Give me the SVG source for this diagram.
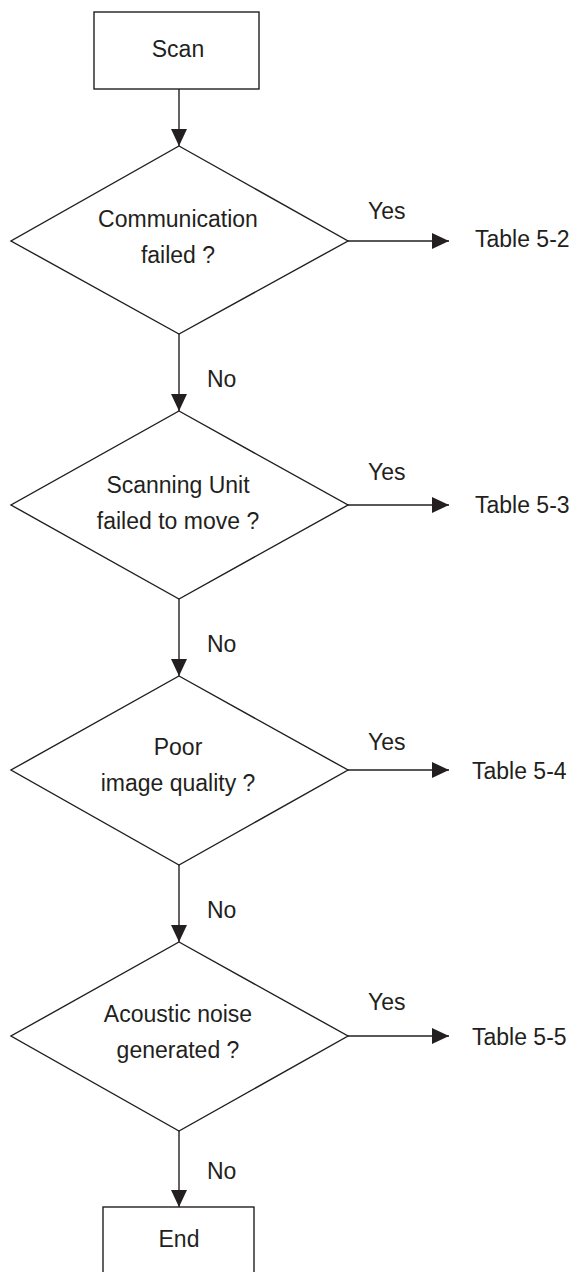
<svg xmlns="http://www.w3.org/2000/svg" width="578" height="1272" viewBox="0 0 578 1272">
<style>
.shape{fill:#fff;stroke:#231f20;stroke-width:1.4}
.edge{fill:none;stroke:#231f20;stroke-width:1.4}
text{font-family:"Liberation Sans",Arial,sans-serif;font-size:23px;fill:#231f20}
.c{text-anchor:middle}
</style>
<defs>
<marker id="ah" markerWidth="17" markerHeight="16" refX="17" refY="8" orient="auto" markerUnits="userSpaceOnUse">
<path d="M0,0 L17,8 L0,16 Z" fill="#231f20"/>
</marker>
</defs>
<rect width="578" height="1272" fill="#fff"/>
<g id="connectors">
<line class="edge" x1="179" y1="89" x2="179" y2="146" marker-end="url(#ah)"/>
<line class="edge" x1="179" y1="334" x2="179" y2="411" marker-end="url(#ah)"/>
<line class="edge" x1="179" y1="599" x2="179" y2="676" marker-end="url(#ah)"/>
<line class="edge" x1="179" y1="865" x2="179" y2="942" marker-end="url(#ah)"/>
<line class="edge" x1="179" y1="1131" x2="179" y2="1207" marker-end="url(#ah)"/>
<line class="edge" x1="348" y1="241" x2="449" y2="241" marker-end="url(#ah)"/>
<line class="edge" x1="348" y1="505" x2="449" y2="505" marker-end="url(#ah)"/>
<line class="edge" x1="348" y1="770" x2="449" y2="770" marker-end="url(#ah)"/>
<line class="edge" x1="348" y1="1036" x2="449" y2="1036" marker-end="url(#ah)"/>
<text x="207" y="387">No</text>
<text x="207" y="652">No</text>
<text x="207" y="918">No</text>
<text x="207" y="1179">No</text>
<text x="368" y="219">Yes</text>
<text x="368" y="480">Yes</text>
<text x="368" y="750">Yes</text>
<text x="368" y="1010">Yes</text>
</g>
<g id="scan">
<rect class="shape" x="94" y="12" width="165" height="77"/>
<text class="c" x="178" y="57">Scan</text>
</g>
<g id="d1">
<polygon class="shape" points="179,146 348,241 179,334 11,241"/>
<text class="c" x="178" y="227">Communication</text>
<text class="c" x="178" y="263">failed ?</text>
</g>
<g id="d2">
<polygon class="shape" points="179,411 348,505 179,599 11,505"/>
<text class="c" x="178" y="493">Scanning Unit</text>
<text class="c" x="178" y="529">failed to move ?</text>
</g>
<g id="d3">
<polygon class="shape" points="179,676 348,770 179,865 11,770"/>
<text class="c" x="178" y="755">Poor</text>
<text class="c" x="178" y="791">image quality ?</text>
</g>
<g id="d4">
<polygon class="shape" points="179,942 348,1036 179,1131 11,1036"/>
<text class="c" x="178" y="1022">Acoustic noise</text>
<text class="c" x="178" y="1058">generated ?</text>
</g>
<g id="t52"><text x="475" y="247">Table 5-2</text></g>
<g id="t53"><text x="475" y="513">Table 5-3</text></g>
<g id="t54"><text x="472" y="779">Table 5-4</text></g>
<g id="t55"><text x="472" y="1045">Table 5-5</text></g>
<g id="end">
<rect class="shape" x="103" y="1207" width="151" height="80"/>
<text class="c" x="179" y="1247">End</text>
</g>
</svg>
